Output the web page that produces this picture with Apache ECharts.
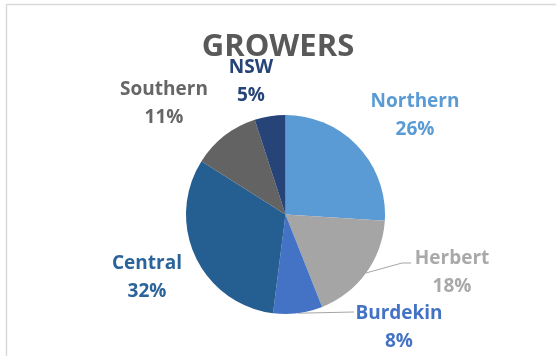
<!DOCTYPE html>
<html>
<head>
<meta charset="utf-8">
<script src="https://cdn.jsdelivr.net/npm/echarts@6/dist/echarts.min.js"></script>
<style>
  html, body { margin: 0; padding: 0; background: #ffffff; }
  #chart { width: 556px; height: 356px; }
</style>
</head>
<body>
<div id="chart"></div>
<script>
// Growers by region (percent of total)
const regions = ['Northern', 'Herbert', 'Burdekin', 'Central', 'Southern', 'NSW'];
const shares = [26, 18, 8, 32, 11, 5];

// Slice colours, in region order
const sliceColors = ['#5b9bd5', '#a5a5a5', '#4472c4', '#255e91', '#636363', '#264478'];
const labelColors = ['#5b9bd5', '#a9a9a9', '#4472c4', '#2b649a', '#666666', '#264478'];

// Label block centres around the pie
const labelSpots = [
  [415, 116],
  [452, 273],
  [399, 328],
  [147, 278],
  [164, 104],
  [251, 82]
];
// Regions whose label is tied to its slice with a leader line
const leaderEnds = {
  1: [[402, 263], [411, 263]],
  2: [[354, 312], [354, 312]]
};

const chart = echarts.init(document.getElementById('chart'), null, { renderer: 'canvas' });

const data = regions.map((name, i) => ({
  name: name,
  value: shares[i],
  itemStyle: { color: sliceColors[i] },
  label: { color: labelColors[i] },
  labelLine: { show: leaderEnds[i] !== undefined }
}));

chart.setOption({
  backgroundColor: '#ffffff',
  animation: false,
  title: {
    text: 'GROWERS',
    left: 'center',
    top: 32,
    padding: [0, 0, 0, 21],
    textStyle: {
      fontFamily: 'Open Sans',
      fontWeight: 'bold',
      fontSize: 31,
      color: '#595959'
    }
  },
  graphic: [
    { type: 'line', shape: { x1: 6, y1: 4.5, x2: 556, y2: 4.5 }, style: { stroke: '#d9d9d9', lineWidth: 1.5 }, silent: true },
    { type: 'line', shape: { x1: 6.5, y1: 4, x2: 6.5, y2: 356 }, style: { stroke: '#d9d9d9', lineWidth: 1.5 }, silent: true }
  ],
  series: [{
    type: 'pie',
    center: [285.5, 214.5],
    radius: 99.5,
    startAngle: 90,
    clockwise: true,
    avoidLabelOverlap: false,
    itemStyle: { borderWidth: 0 },
    label: {
      show: true,
      position: 'outside',
      formatter: '{b}\n{d}%',
      fontFamily: 'Open Sans',
      fontWeight: 'bold',
      fontSize: 19,
      lineHeight: 28,
      align: 'center'
    },
    labelLine: {
      show: false,
      length: 10,
      length2: 10,
      smooth: false,
      lineStyle: { color: '#a6a6a6', width: 1 }
    },
    labelLayout: function (params) {
      const i = params.dataIndex;
      const spot = labelSpots[i];
      const out = { x: spot[0], y: spot[1], align: 'center', verticalAlign: 'middle' };
      if (leaderEnds[i] && params.labelLinePoints) {
        out.labelLinePoints = [params.labelLinePoints[0]].concat(leaderEnds[i]);
      }
      return out;
    },
    data: data
  }]
});
</script>
</body>
</html>
